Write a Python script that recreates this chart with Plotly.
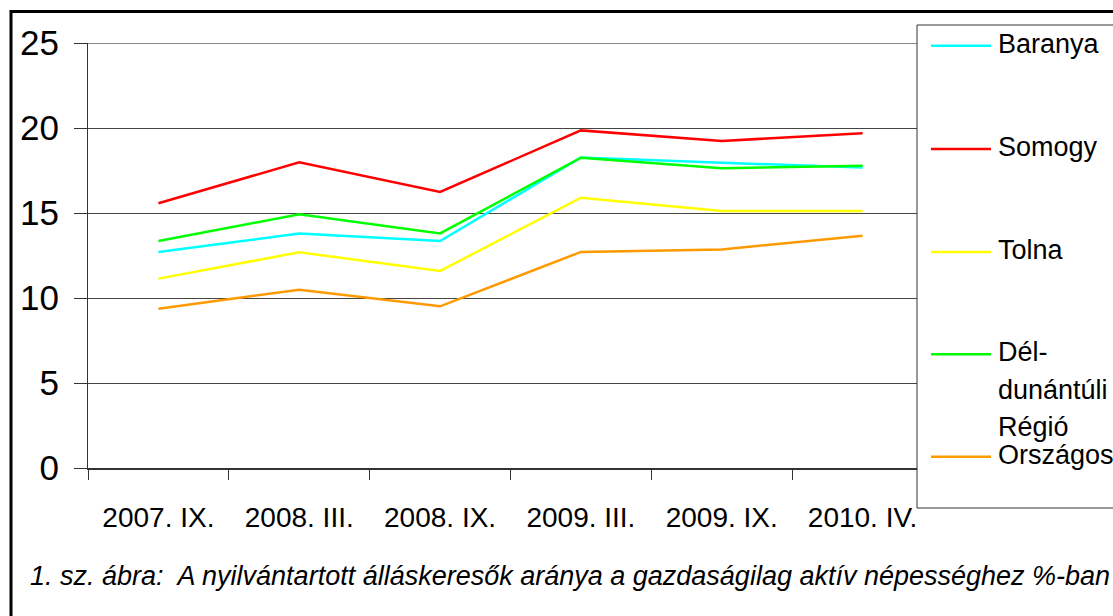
import plotly.graph_objects as go

categories = ["2007. IX.", "2008. III.", "2008. IX.", "2009. III.", "2009. IX.", "2010. IV."]
series_names = ["Baranya", "Somogy", "Tolna", "Dél-dunántúli Régió", "Országos"]
legend_lines = [["Baranya"], ["Somogy"], ["Tolna"], ["Dél-", "dunántúli", "Régió"], ["Országos"]]
baranya = [12.7, 13.8, 13.35, 18.27, 17.96, 17.67]
somogy = [15.57, 17.98, 16.24, 19.86, 19.24, 19.69]
tolna = [11.14, 12.69, 11.59, 15.9, 15.12, 15.12]
del_dunantuli = [13.35, 14.92, 13.8, 18.25, 17.63, 17.78]
orszagos = [9.37, 10.49, 9.51, 12.71, 12.86, 13.66]
series_values = [baranya, somogy, tolna, del_dunantuli, orszagos]
colors = ["#00FFFF", "#FF0000", "#FFFF00", "#00FF00", "#FF9900"]
y_ticks = [0, 5, 10, 15, 20, 25]
caption = "1. sz. ábra:  A nyilvántartott álláskeresők aránya a gazdaságilag aktív népességhez %-ban"

FONT = "Liberation Sans, Arial, sans-serif"

# plot area in pixels
L, R, T, B = 88, 933, 43, 468
W, H = 1113, 616


def px_x(px):
    return (px - L) / (R - L)


def px_y(py):
    return (B - py) / (B - T)


fig = go.Figure()
for name, vals, col in zip(series_names, series_values, colors):
    fig.add_trace(go.Scatter(x=categories, y=vals, mode="lines", name=name,
                             line=dict(color=col, width=2.5), showlegend=False))

shapes = []
annotations = []

# top gridline (lighter, as in the reference)
shapes.append(dict(type="line", xref="paper", yref="y", x0=0, x1=px_x(917), y0=y_ticks[-1], y1=y_ticks[-1],
                   line=dict(color="#888888", width=2), layer="above"))

# legend box
shapes.append(dict(type="rect", xref="paper", yref="paper",
                   x0=px_x(917), x1=px_x(1140), y0=px_y(25), y1=px_y(508),
                   line=dict(color="#333333", width=1), fillcolor="white", layer="above"))
legend_y = [45.7, 149, 252, 354.3, 456.7]
line_gap = 37.5
for lines, col, ly in zip(legend_lines, colors, legend_y):
    shapes.append(dict(type="line", xref="paper", yref="paper",
                       x0=px_x(931), x1=px_x(991), y0=px_y(ly), y1=px_y(ly),
                       line=dict(color=col, width=2.5), layer="above"))
    for i, txt in enumerate(lines):
        annotations.append(dict(xref="paper", yref="paper", x=px_x(996), y=px_y(ly - 2 + i * line_gap),
                                xanchor="left", yanchor="middle", text=txt, showarrow=False,
                                font=dict(family=FONT, size=27, color="black")))

# outer border
shapes.append(dict(type="rect", xref="paper", yref="paper",
                   x0=px_x(11), x1=px_x(1140), y0=px_y(11.5), y1=px_y(650),
                   line=dict(color="black", width=3), layer="above"))

annotations.append(dict(xref="paper", yref="paper", x=px_x(28), y=px_y(576),
                        xanchor="left", yanchor="middle", text="<i>" + caption + "</i>",
                        showarrow=False, font=dict(family=FONT, size=27, color="black")))

fig.update_layout(
    width=W, height=H,
    margin=dict(l=L, r=W - R, t=T, b=H - B, pad=0),
    paper_bgcolor="white", plot_bgcolor="white",
    shapes=shapes, annotations=annotations,
    showlegend=False,
    xaxis=dict(type="category", range=[-0.5, 5.5], tickson="boundaries",
               ticks="outside", ticklen=10, tickcolor="#333333", tickwidth=1,
               showline=True, linecolor="#333333", linewidth=2, showgrid=False,
               tickfont=dict(family=FONT, size=28, color="black"), ticklabelstandoff=23),
    yaxis=dict(range=[0, 25], tickvals=y_ticks, ticks="outside", ticklen=13,
               tickcolor="#333333", showline=True, linecolor="#333333", linewidth=1,
               showgrid=True, gridcolor="#444444", gridwidth=1, zeroline=False,
               tickfont=dict(family=FONT, size=35, color="black"), ticklabelstandoff=8),
)

fig.write_html("out.html", config={"displayModeBar": False},
               post_script="document.body.style.margin='0';")
